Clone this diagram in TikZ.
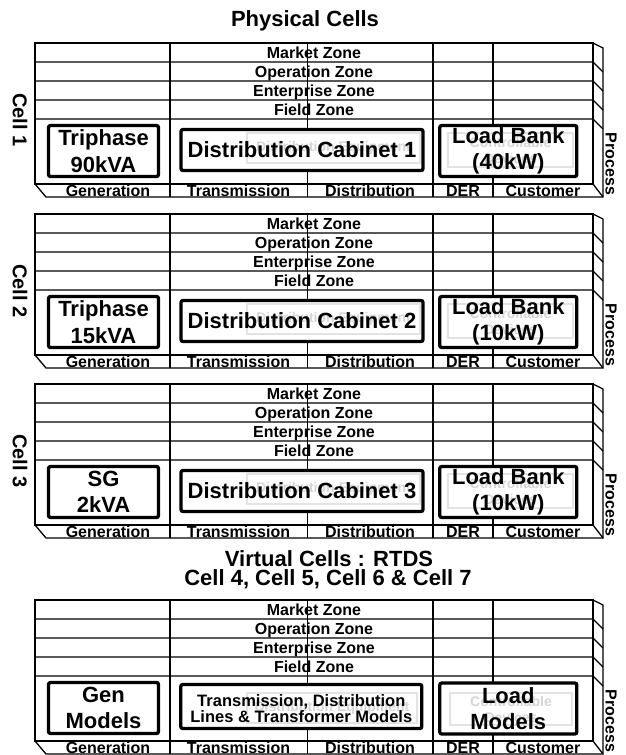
\documentclass[tikz,border=0pt]{standalone}
\usepackage{fontspec}
\setmainfont{Liberation Sans}
\begin{document}
\begin{tikzpicture}[x=1pt, y=-1pt, font=\bfseries,
	grid/.style={line width=1.3pt},
	thinline/.style={line width=0.9pt},
	comp/.style={draw, line width=3.3pt, rounded corners=2pt, fill=white, inner sep=0pt},
	ghost/.style={draw=black!11, line width=1.8pt},
	ghosttext/.style={text=black!16, font=\fontsize{14}{16}\selectfont\bfseries, align=center},
	big/.style={font=\fontsize{22}{26.5}\selectfont\bfseries, align=center},
	zone/.style={font=\fontsize{16}{19}\selectfont\bfseries, anchor=base, inner sep=0pt},
	title/.style={font=\fontsize{22}{26}\selectfont\bfseries, anchor=base, inner sep=0pt},
	celltag/.style={font=\fontsize{20}{24}\selectfont\bfseries, rotate=-90, inner sep=0pt},
	proc/.style={font=\fontsize{16}{19}\selectfont\bfseries, rotate=-90, inner sep=0pt}]
	\useasboundingbox (0,0) rectangle (626,755);
	\node[title] (phys) at (305,26) {Physical Cells};
	\node[title] (virt) at (329,566.5) {Virtual Cells : RTDS};
	\node[title] (virtcells) at (328,585) {Cell 4, Cell 5, Cell 6 \& Cell 7};
	% SGAM grid of every cell
	\foreach \t in {43,214,384,600}{
		\draw[grid] (35,\t) rectangle (593,\t+141);
		\foreach \r in {19,38,57,76}
			\draw[grid] (35,\t+\r) -- (593,\t+\r) -- (603,\t+\r+10);
		\foreach \c in {170,433,493}
			\draw[grid] (\c,\t) -- (\c,\t+154);
		\draw[thinline] (307,\t) -- (307,\t+154);
		\draw[grid] (35,\t+141) -- (46,\t+154) -- (603,\t+154) -- (603,\t+5) -- (593,\t);
		\draw[grid] (593,\t+141) -- (603,\t+154);
		\node[zone] (mkt\t) at (314,\t+15.5) {Market Zone};
		\node[zone] (ops\t) at (314,\t+34.5) {Operation Zone};
		\node[zone] (ent\t) at (314,\t+53.5) {Enterprise Zone};
		\node[zone] (fld\t) at (314,\t+72.5) {Field Zone};
		\node[zone] (gd\t) at (108,\t+153) {Generation};
		\node[zone] (td\t) at (238.5,\t+153) {Transmission};
		\node[zone] (dd\t) at (370,\t+153) {Distribution};
		\node[zone] (der\t) at (463,\t+153) {DER};
		\node[zone] (cd\t) at (543,\t+153) {Customer};
		\node[proc] (proc\t) at (611,\t+121) {Process};
	}
	% physical cells
	\foreach \t/\i/\gen/\load in {43/1/{Triphase\\90kVA}/{Load Bank\\(40kW)},
		214/2/{Triphase\\15kVA}/{Load Bank\\(10kW)}, 384/3/{SG\\2kVA}/{Load Bank\\(10kW)}}{
		\node[celltag] (cell\i) at (20,\t+77) {Cell \i};
		\node[comp, big, minimum width=110, minimum height=51] (gen\i) at (103.5,\t+108) {\gen};
		\node[comp, minimum width=242, minimum height=41] (cab\i) at (302,\t+107) {};
		\draw[ghost] (247,\t+90) rectangle (420,\t+120);
		\node[ghosttext] (cabg\i) at (333.5,\t+105) {Distribution Equipment};
		\node[big] (cabt\i) at (cab\i) {Distribution Cabinet \i};
		\node[comp, minimum width=137, minimum height=51] (load\i) at (508.3,\t+108) {};
		\draw[ghost] (448,\t+90) rectangle (573,\t+124);
		\node[ghosttext] (loadg\i) at (510.5,\t+107) {Controllable\\Devices};
		\node[big] (loadt\i) at (load\i) {\load};
	}
	% virtual cells
	\node[comp, big, minimum width=110, minimum height=51] (gen4) at (103.5,708) {Gen\\Models};
	\node[comp, minimum width=241, minimum height=44] (trans4) at (301.3,706.5) {};
	\draw[ghost] (247,693) rectangle (417,723);
	\node[ghosttext] (transg4) at (332,708) {Distribution Equipment};
	\node[align=center, font=\fontsize{16.5}{16.6}\selectfont\bfseries] (transt4) at (301.3,708.5)
		{Transmission, Distribution\\Lines \& Transformer Models};
	\node[comp, minimum width=137, minimum height=51] (load4) at (508.3,708.5) {};
	\draw[ghost] (450,693) rectangle (572,725);
	\node[ghosttext] (loadg4) at (511,709) {Controllable\\Devices};
	\node[big] (loadt4) at (load4) {Load\\Models};
\end{tikzpicture}
\end{document}
